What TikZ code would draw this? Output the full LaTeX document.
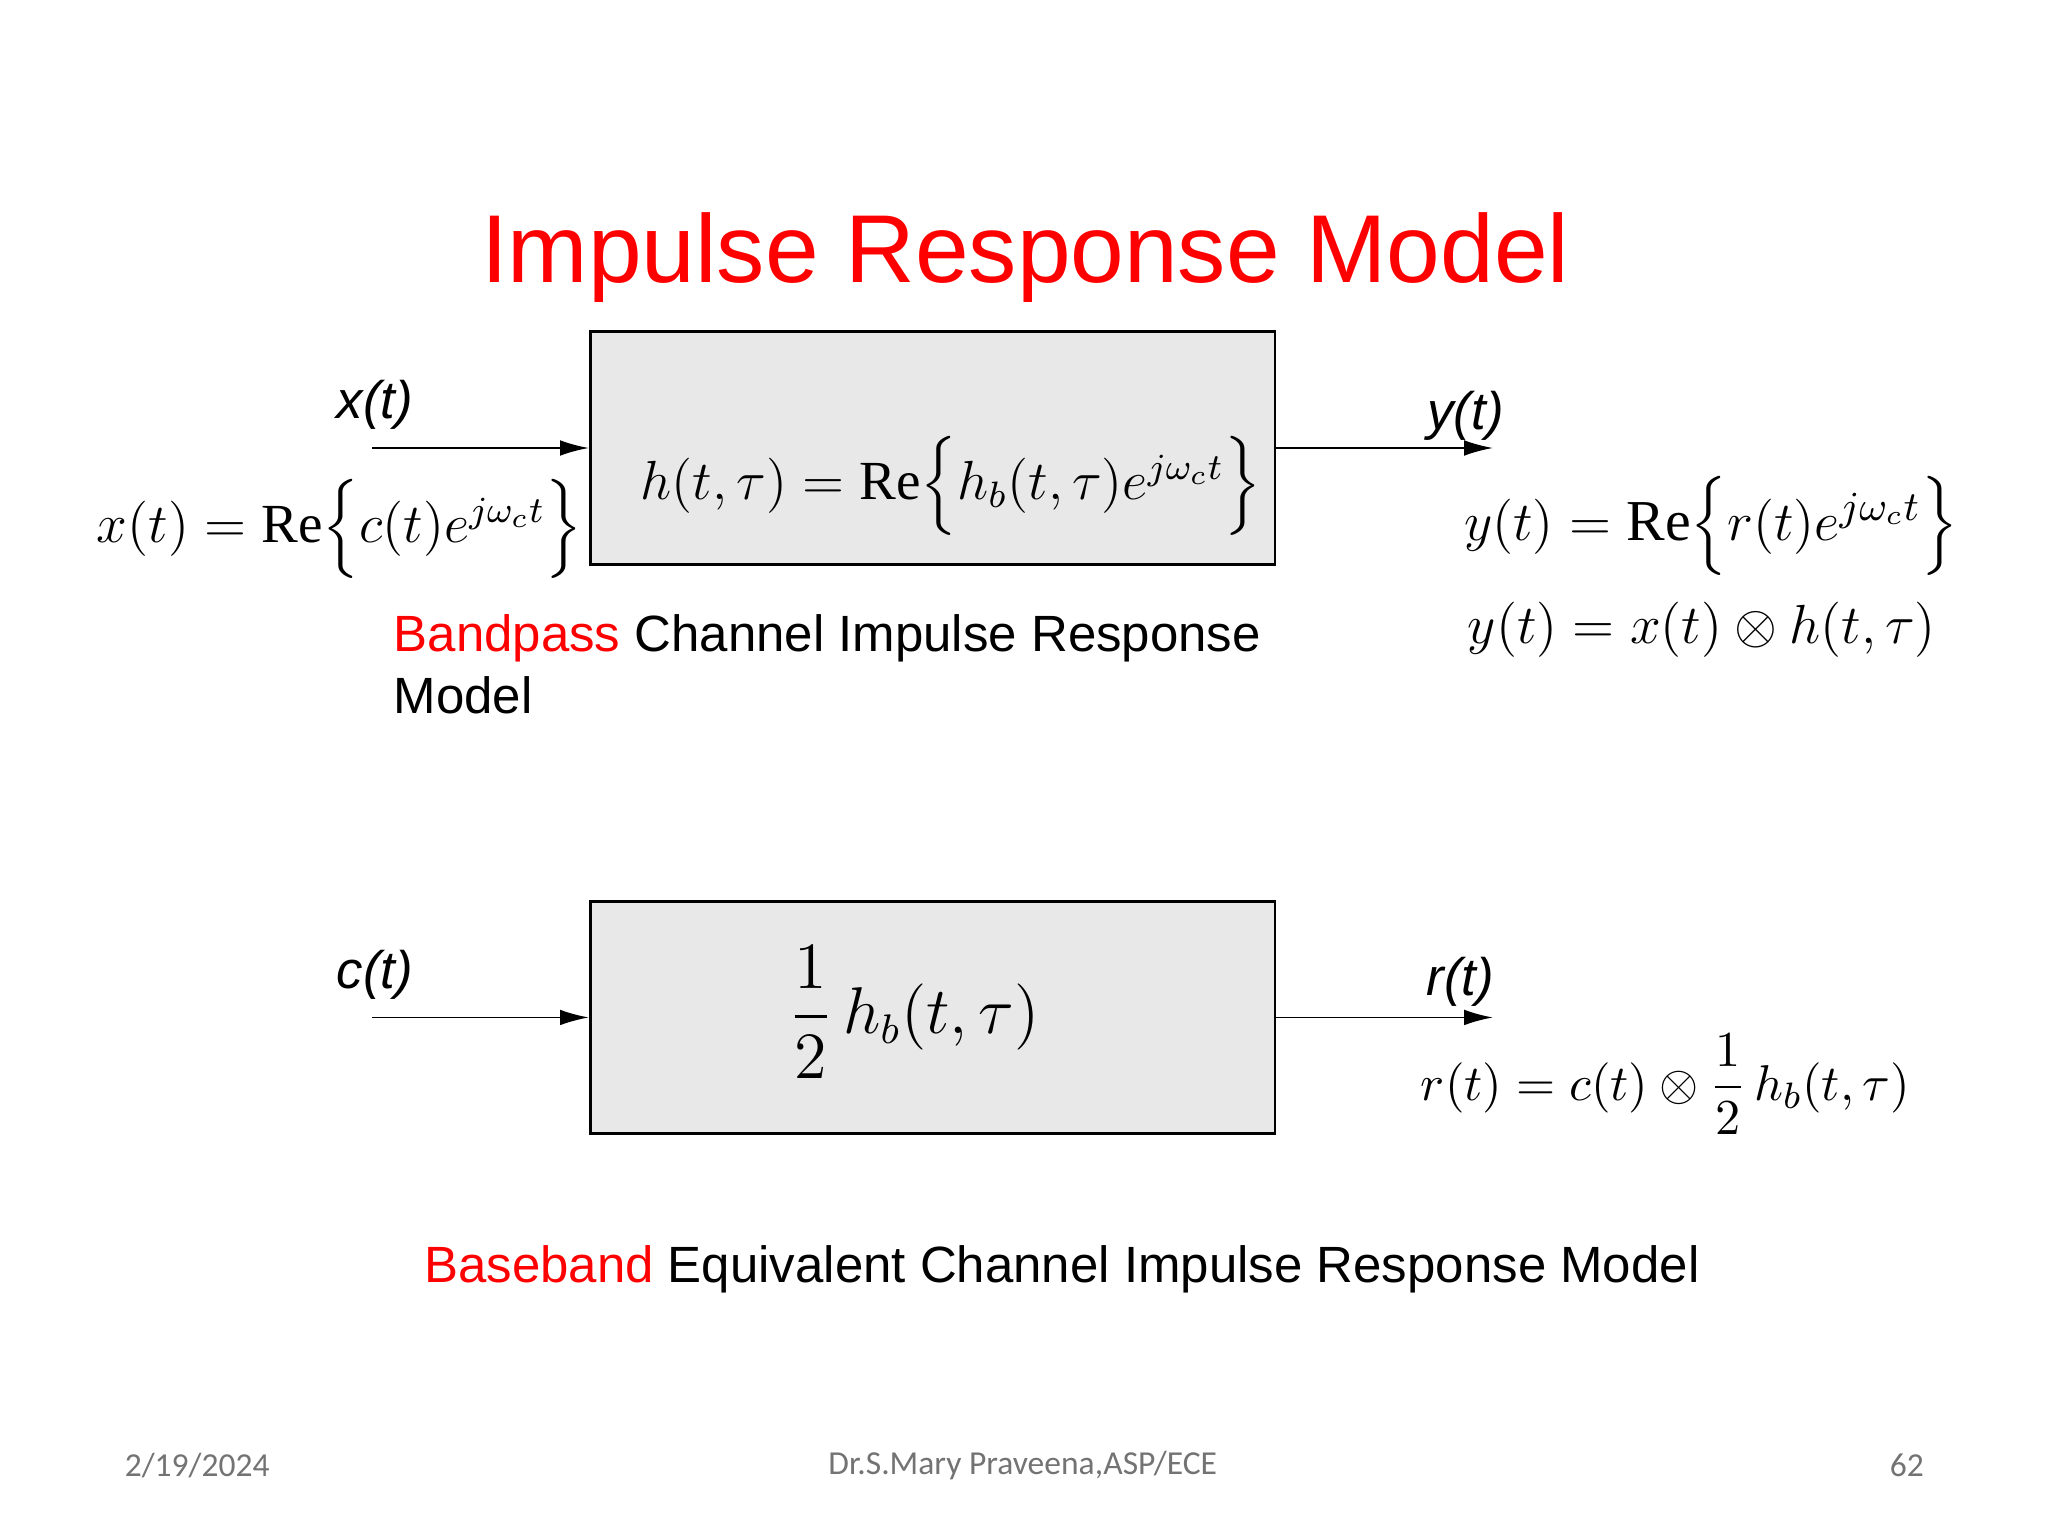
\documentclass[tikz,border=0pt]{standalone}
\usepackage{amsmath}
\usepackage{fontspec}
\setmainfont{Liberation Serif}
\newfontfamily\sansf{Liberation Sans}
\newfontfamily\footf{Carlito}
\usetikzlibrary{arrows.meta}
\begin{document}
\begin{tikzpicture}
                        [x=0.01cm,y=-0.01cm,
                        blk/.style={draw,fill=black!9,line width=0.6pt,minimum width=5.24cm,minimum height=1.78cm},
                        sig/.style={font=\sansf\itshape\fontsize{11.5}{13}\selectfont},
                        eq/.style={font=\fontsize{12}{14}\selectfont},
                        lbl/.style={font=\sansf\fontsize{11.1}{13.6}\selectfont,align=left},
                        foot/.style={font=\footf\fontsize{7.3}{8}\selectfont,color=black!55},
                        >={Latex[length=2.2mm,width=1.2mm]}]
                        \useasboundingbox (0,0) rectangle (1568,1176);
                        %Titel
                        \node [font=\sansf\fontsize{21}{24}\selectfont,color=red] (title) at (785,197) {Impulse Response Model};
                        %Bandpass
                        \node [blk] (bp) at (714,343) {};
                        \coordinate (xin) at (285,343);
                        \coordinate (yout) at (1143,343);
                        \draw [->] (xin) -- (bp.west);
                        \draw [->] (bp.east) -- (yout);
                        \node [sig] (xl) at (287,310) {x(t)};
                        \node [sig] (yl) at (1122,318) {y(t)};
                        \node [eq] (heq) at (728,372) {$h(t,\tau)=\mathrm{Re}\Bigl\{h_b(t,\tau)e^{j\omega_c t}\Bigr\}$};
                        \node [eq] (xeq) at (260,405) {$x(t)=\mathrm{Re}\Bigl\{c(t)e^{j\omega_c t}\Bigr\}$};
                        \node [eq,font=\fontsize{12.6}{15}\selectfont] (yeq) at (1310,403) {$y(t)=\mathrm{Re}\Bigl\{r(t)e^{j\omega_c t}\Bigr\}$};
                        \node [eq,font=\fontsize{12.6}{15}\selectfont] (yconv) at (1303,482) {$y(t)=x(t)\otimes h(t,\tau)$};
                        \node [lbl,anchor=north west] (bptxt) at (289,458) {\textcolor{red}{Bandpass} Channel Impulse Response\\Model};
                        %Baseband
                        \node [blk] (bb) at (714,779) {};
                        \coordinate (cin) at (285,779);
                        \coordinate (rout) at (1143,779);
                        \draw [->] (cin) -- (bb.west);
                        \draw [->] (bb.east) -- (rout);
                        \node [sig] (cl) at (287,746) {c(t)};
                        \node [sig] (rl) at (1118,752) {r(t)};
                        \node [eq,font=\fontsize{13.3}{16}\selectfont] (hbeq) at (700,775) {$\dfrac{1}{2}\,h_b(t,\tau)$};
                        \node [eq,font=\fontsize{11}{13}\selectfont] (req) at (1275,830) {$r(t)=c(t)\otimes\dfrac{1}{2}\,h_b(t,\tau)$};
                        \node [lbl] (bbtxt) at (813,972) {\textcolor{red}{Baseband} Equivalent Channel Impulse Response Model};
                        %Fusszeile
                        \node [foot] (date) at (151,1122) {2/19/2024};
                        \node [foot] (auth) at (783,1122) {Dr.S.Mary Praveena,ASP/ECE};
                        \node [foot] (page) at (1460,1122) {62};
\end{tikzpicture}
\end{document}
